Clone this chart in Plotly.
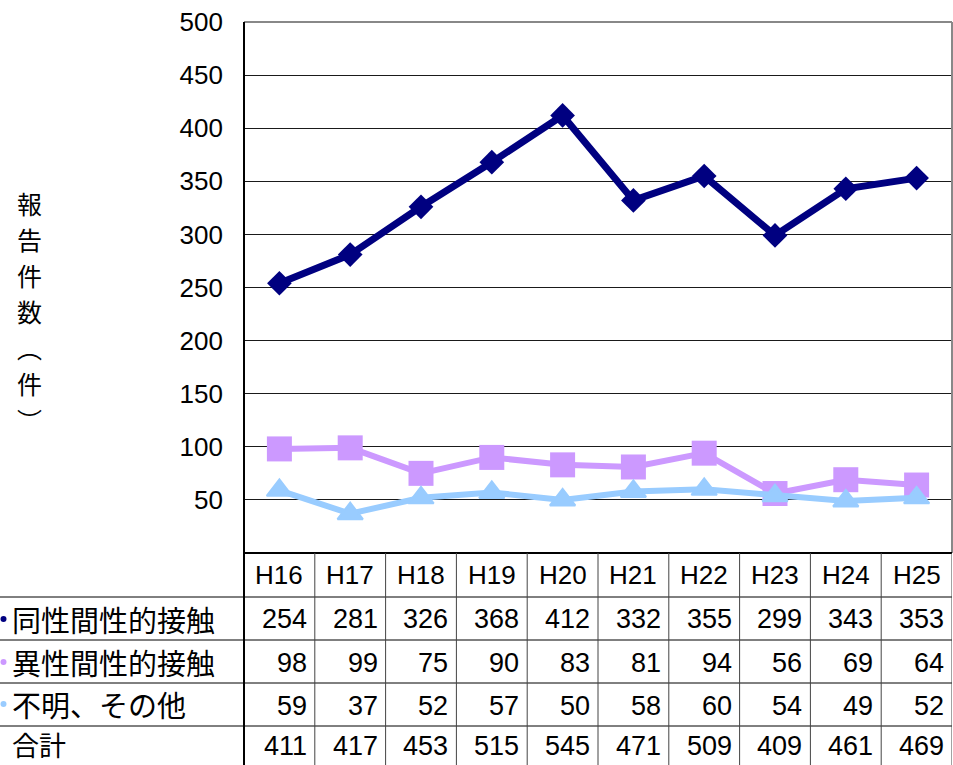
import plotly.graph_objects as go

# ---- data ----
years = ["H16", "H17", "H18", "H19", "H20", "H21", "H22", "H23", "H24", "H25"]
same_sex = [254, 281, 326, 368, 412, 332, 355, 299, 343, 353]
hetero = [98, 99, 75, 90, 83, 81, 94, 56, 69, 64]
unknown = [59, 37, 52, 57, 50, 58, 60, 54, 49, 52]
total = [411, 417, 453, 515, 545, 471, 509, 409, 461, 469]
series_names = ["同性間性的接触", "異性間性的接触", "不明、その他"]
total_name = "合計"
y_title_chars = ["報", "告", "件", "数", "︵", "件", "︶"]
y_ticks = [50, 100, 150, 200, 250, 300, 350, 400, 450, 500]

colors = ["#000080", "#CC99FF", "#99CCFF"]

W, H = 953, 765
PL, PR, PT, PB = 244, 952, 22, 553  # plot area in pixels


def px(x):
    return x / W


def py(y):
    return 1 - y / H


NUM_FONT = "Liberation Sans, Arial, sans-serif"
JP_FONT = "Noto Sans CJK JP, sans-serif"

fig = go.Figure()
idx = list(range(len(years)))
fig.add_trace(go.Scatter(
    x=idx, y=same_sex, mode="lines+markers", name=series_names[0],
    line=dict(color=colors[0], width=7),
    marker=dict(symbol="diamond", size=19, color=colors[0]),
))
fig.add_trace(go.Scatter(
    x=idx, y=hetero, mode="lines+markers", name=series_names[1],
    line=dict(color=colors[1], width=6),
    marker=dict(symbol="square", size=25, color=colors[1]),
))
fig.add_trace(go.Scatter(
    x=idx, y=unknown, mode="lines+markers", name=series_names[2],
    line=dict(color=colors[2], width=6),
    marker=dict(symbol="triangle-up", size=22, color=colors[2],
                line=dict(color=colors[2], width=2)),
))

shapes = []
annotations = []
LINE = dict(color="#000000", width=1)

# plot border (top/right grey)
shapes.append(dict(type="line", xref="paper", yref="paper", x0=px(PL), x1=px(PR),
                   y0=py(PT), y1=py(PT), line=dict(color="#888888", width=2), layer="above"))
shapes.append(dict(type="line", xref="paper", yref="paper", x0=px(PR), x1=px(PR),
                   y0=py(PT), y1=py(PB), line=dict(color="#888888", width=2), layer="above"))
# left axis line down through table
shapes.append(dict(type="line", xref="paper", yref="paper", x0=px(PL), x1=px(PL),
                   y0=py(PT), y1=py(H + 5), line=dict(color="#000000", width=2), layer="above"))
# plot bottom / table top
shapes.append(dict(type="line", xref="paper", yref="paper", x0=px(PL), x1=px(PR),
                   y0=py(PB), y1=py(PB), line=dict(color="#000000", width=2), layer="above"))

# table row boundaries
row_lines = [597, 640, 683, 726]
for yl in row_lines:
    shapes.append(dict(type="line", xref="paper", yref="paper", x0=0, x1=px(PR),
                       y0=py(yl), y1=py(yl), line=LINE, layer="above"))

# table column boundaries (in category coordinates)
for i in range(1, len(years) + 1):
    shapes.append(dict(type="line", xref="x", yref="paper", x0=i - 0.5, x1=i - 0.5,
                       y0=py(PB), y1=py(H + 5), line=dict(color="#444444", width=1),
                       layer="above"))

# header labels
header_y = 575
for i, yr in enumerate(years):
    annotations.append(dict(x=i, y=py(header_y), xref="x", yref="paper", text=yr,
                            showarrow=False, xanchor="center", yanchor="middle",
                            height=32,
                            font=dict(family=NUM_FONT, size=26, color="#000000")))

row_centers = [619, 662, 704, 744]
label_sizes = [29, 29, 29, 27]
num_centers = [619, 663, 706, 746]
rows = [same_sex, hetero, unknown, total]
row_names = series_names + [total_name]
for r, (vals, name) in enumerate(zip(rows, row_names)):
    yc = row_centers[r]
    annotations.append(dict(x=px(10), y=py(yc), xref="paper", yref="paper", text=name,
                            showarrow=False, xanchor="left", yanchor="middle", height=34,
                            font=dict(family=JP_FONT, size=label_sizes[r], color="#000000")))
    if r < 3:
        shapes.append(dict(type="circle", xref="paper", yref="paper",
                           x0=px(0.5), x1=px(6.5), y0=py(yc - 3), y1=py(yc + 3),
                           fillcolor=colors[r], line=dict(width=0), layer="above"))
    for i, v in enumerate(vals):
        annotations.append(dict(x=i + 0.5, y=py(num_centers[r]), xref="x", yref="paper",
                                text=str(v), showarrow=False, xanchor="right",
                                yanchor="middle", xshift=-6, height=32,
                                font=dict(family=NUM_FONT, size=27, color="#000000")))

# vertical y-axis title, one character per line
title_centers = [203, 239, 275, 311, 347, 383, 420]
for ch, yc in zip(y_title_chars, title_centers):
    annotations.append(dict(x=px(30), y=py(yc), xref="paper", yref="paper", text=ch,
                            showarrow=False, xanchor="center", yanchor="middle", height=30,
                            font=dict(family=JP_FONT, size=25, color="#000000")))

fig.update_layout(
    template="none",
    width=W, height=H,
    margin=dict(l=0, r=0, t=0, b=0, autoexpand=False),
    paper_bgcolor="white", plot_bgcolor="white",
    showlegend=False,
    shapes=shapes, annotations=annotations,
    xaxis=dict(domain=[px(PL), px(PR)], range=[-0.5, len(years) - 0.5],
               showticklabels=False, showgrid=False, zeroline=False, showline=False,
               automargin=False, fixedrange=True),
    yaxis=dict(domain=[py(PB), py(PT)], range=[0, 500], tickvals=y_ticks,
               showgrid=True, gridcolor="#1a1a1a", gridwidth=1, zeroline=False,
               showline=False, ticks="", ticklabelstandoff=20, automargin=False,
               tickfont=dict(family=NUM_FONT, size=26, color="#000000"),
               fixedrange=True),
)

fig.write_html("out.html", config={"displayModeBar": False},
               post_script="document.body.style.margin='0';")
